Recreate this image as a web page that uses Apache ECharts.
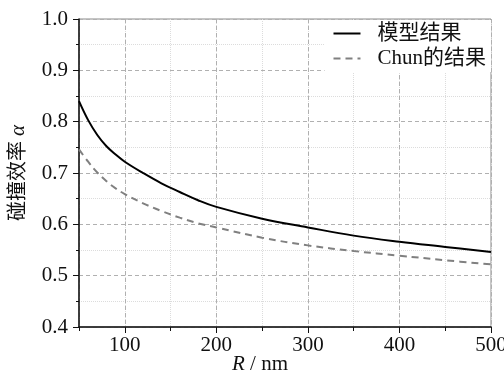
<!DOCTYPE html>
<html>
<head>
<meta charset="utf-8">
<script src="https://cdn.jsdelivr.net/npm/echarts@6/dist/echarts.min.js"></script>
<style>
  html, body { margin: 0; padding: 0; background: #fff; }
  #chart { width: 504px; height: 373px; }
</style>
</head>
<body>
<div id="chart"></div>
<script>
// particle radius R (nm)
const radius = [50, 60, 70, 80, 90, 100, 120, 140, 160, 180, 200, 250, 300, 350, 400, 450, 500];
// collision efficiency, model result (solid)
const modelAlpha = [0.840, 0.803, 0.774, 0.752, 0.736, 0.722, 0.700, 0.680, 0.663, 0.647, 0.634, 0.611, 0.594, 0.578, 0.566, 0.556, 0.546];
// Chun's result (dashed)
const chunAlpha = [0.746, 0.722, 0.701, 0.684, 0.670, 0.659, 0.641, 0.626, 0.613, 0.602, 0.594, 0.574, 0.559, 0.548, 0.539, 0.530, 0.522];

const seriesNames = ['模型结果', 'Chun的结果'];

const FONT = '"Liberation Serif", "Noto Sans CJK SC", serif';
const toPairs = (ys) => radius.map((r, i) => [r, ys[i]]);

const chart = echarts.init(document.getElementById('chart'));

chart.setOption({
  animation: false,
  textStyle: { fontFamily: FONT },
  grid: {
    left: 79, right: 13, top: 19, bottom: 46,
    outerBoundsMode: 'none',
    containLabel: false,
    show: true,
    borderColor: '#8a8a8a',
    borderWidth: 1,
    backgroundColor: 'transparent'
  },
  legend: {
    right: 13,
    top: 20,
    orient: 'vertical',
    backgroundColor: '#fff',
    padding: [3, 5, 3, 8],
    itemWidth: 27,
    itemHeight: 20,
    itemGap: 4,
    itemStyle: { opacity: 0 },
    textStyle: { fontFamily: FONT, fontSize: 21, color: '#111', padding: [0, 0, 0, 12] },
    data: seriesNames
  },
  xAxis: [
    {
      // minor grid every 50
      type: 'value', min: 50, max: 500, interval: 50,
      axisLine: { show: false },
      axisTick: { show: true, length: 4, lineStyle: { color: '#111' } },
      axisLabel: { show: false },
      splitLine: { show: true, lineStyle: { color: '#dcdcdc', type: 'dotted', width: 1 } }
    },
    {
      // major ticks at 100, 200, ...
      type: 'value', min: 50, max: 500, splitNumber: 5,
      minInterval: 100, maxInterval: 100,
      position: 'bottom',
      axisLine: { show: true, onZero: false, lineStyle: { color: '#111', width: 1.5 } },
      axisTick: { show: true, length: 6, lineStyle: { color: '#111' } },
      axisLabel: { showMinLabel: false, margin: 8, fontSize: 21, color: '#111', fontFamily: FONT },
      splitLine: { show: true, lineStyle: { color: '#b0b0b0', type: [4, 3], width: 1 } },
      name: '{i|R} / nm',
      nameLocation: 'middle',
      nameGap: 27,
      nameMoveOverlap: false,
      nameTextStyle: {
        fontSize: 21, color: '#111', fontFamily: FONT,
        padding: [0, 50, 0, 0],
        rich: { i: { fontStyle: 'italic', fontSize: 21, fontFamily: FONT, color: '#111' } }
      }
    }
  ],
  yAxis: {
    type: 'value', min: 0.4, max: 1.0, interval: 0.1,
    axisLine: { show: true, lineStyle: { color: '#111', width: 1.5 } },
    axisTick: { show: true, length: 6, lineStyle: { color: '#111' } },
    minorTick: { show: true, splitNumber: 2, length: 3, lineStyle: { color: '#111' } },
    axisLabel: { margin: 11, fontSize: 21, color: '#111', fontFamily: FONT, formatter: (v) => v.toFixed(1) },
    splitLine: { show: true, lineStyle: { color: '#b0b0b0', type: [4, 3], width: 1 } },
    minorSplitLine: { show: true, lineStyle: { color: '#dcdcdc', type: 'dotted', width: 1 } },
    name: '碰撞效率 {i|α}',
    nameLocation: 'middle',
    nameGap: 50,
    nameMoveOverlap: false,
    nameTextStyle: {
      fontSize: 20, color: '#111', fontFamily: FONT,
      rich: { i: { fontStyle: 'italic', fontSize: 21, fontFamily: FONT, color: '#111' } }
    }
  },
  series: [
    {
      name: seriesNames[0],
      type: 'line',
      xAxisIndex: 0,
      data: toPairs(modelAlpha),
      smooth: 0.4,
      symbol: 'none',
      lineStyle: { color: '#000', width: 2, type: 'solid' },
      itemStyle: { color: '#000' },
      z: 3
    },
    {
      name: seriesNames[1],
      type: 'line',
      xAxisIndex: 0,
      data: toPairs(chunAlpha),
      smooth: 0.4,
      symbol: 'none',
      lineStyle: { color: '#808080', width: 2, type: [7, 5] },
      itemStyle: { color: '#808080' },
      z: 2
    }
  ]
});
</script>
</body>
</html>
